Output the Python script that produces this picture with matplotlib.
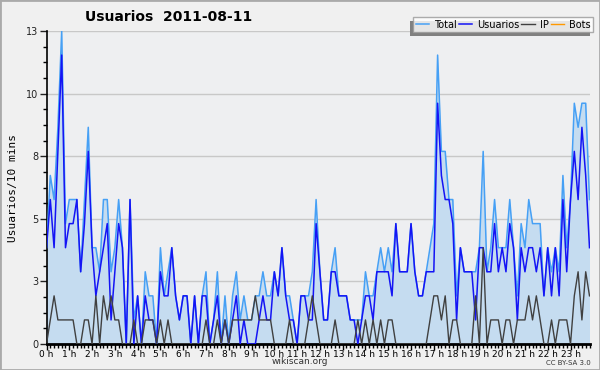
import matplotlib
matplotlib.use("Agg")
import matplotlib.pyplot as plt
from matplotlib.patches import Rectangle
import numpy as np

# 10-minute slots, 2011-08-11
usuarios = [4, 6, 4, 8, 12, 4, 5, 5, 6, 3, 5, 8, 4, 2, 3, 4, 5, 1, 3, 5, 4, 0, 6, 0,
            2, 0, 2, 1, 1, 0, 3, 2, 2, 4, 2, 1, 2, 2, 0, 2, 0, 2, 2, 0, 1, 2, 0, 1,
            0, 1, 2, 0, 1, 0, 0, 0, 1, 2, 1, 1, 3, 2, 4, 2, 1, 1, 0, 2, 2, 1, 1, 5,
            3, 1, 1, 3, 3, 2, 2, 2, 1, 1, 0, 1, 2, 2, 1, 3, 3, 3, 3, 2, 5, 3, 3, 3,
            5, 3, 2, 2, 3, 3, 3, 10, 7, 6, 6, 5, 1, 4, 3, 3, 3, 1, 4, 4, 3, 3, 5, 3,
            4, 3, 5, 4, 1, 4, 3, 4, 4, 3, 4, 2, 4, 2, 4, 2, 6, 3, 6, 8, 6, 9, 7, 4]
ip = [0, 1, 2, 1, 1, 1, 1, 1, 0, 0, 1, 1, 0, 2, 0, 2, 1, 2, 1, 1, 0, 0, 0, 1,
      0, 0, 1, 1, 1, 0, 1, 0, 1, 0, 0, 0, 0, 0, 0, 0, 0, 0, 1, 0, 0, 1, 0, 1,
      0, 1, 1, 1, 1, 1, 1, 2, 1, 1, 1, 1, 0, 0, 0, 0, 1, 0, 0, 0, 0, 1, 2, 1,
      0, 0, 0, 0, 1, 0, 0, 0, 0, 0, 1, 0, 1, 0, 1, 0, 1, 0, 1, 1, 0, 0, 0, 0,
      0, 0, 0, 0, 0, 1, 2, 2, 1, 2, 0, 1, 1, 0, 0, 0, 0, 2, 0, 4, 0, 1, 1, 1,
      0, 1, 1, 0, 1, 1, 1, 2, 1, 2, 1, 0, 0, 1, 0, 1, 1, 1, 0, 2, 3, 1, 3, 2]
bots = [0] * 144
total = [u + i + b for u, i, b in zip(usuarios, ip, bots)]

hour_labels = [f"{h} h" for h in range(24)]
ytick_labels = ["0", "3", "5", "8", "10", "13"]

W, H = 600, 370
fig = plt.figure(figsize=(6, 3.7), dpi=100, facecolor="#f0f0f0")
ax = fig.add_axes([46.5 / W, 1 - 344 / H, (589.5 - 46.5) / W, (344 - 31) / H])
ax.set_facecolor("#eeeff1")
ax.set_zorder(1)

x = np.arange(len(total))
ax.fill_between(x, 0, total, color="#c5dcf0", lw=0, zorder=1)
l1, = ax.plot(x, total, color="#46a0f5", lw=1.1, label="Total", zorder=3)
l2, = ax.plot(x, usuarios, color="#1414f5", lw=1.1, label="Usuarios", zorder=4)
l3, = ax.plot(x, ip, color="#404040", lw=1.0, label="IP", zorder=5)
l4, = ax.plot(x, bots, color="#ff9900", lw=1.0, label="Bots", zorder=2, alpha=0)

ax.set_xlim(0, 143)
ax.set_ylim(0, 13)
yt = [0, 2.6, 5.2, 7.8, 10.4, 13]
ax.set_yticks(yt)
ax.set_yticklabels(ytick_labels)
ax.set_yticks(np.arange(0, 13.01, 0.65), minor=True)
ax.set_xticks(np.arange(0, 144, 6))
ax.set_xticklabels(hour_labels)
ax.set_xticks(np.arange(0, 144, 1), minor=True)
ax.grid(axis="y", which="major", color="#c8c8c8", lw=1, zorder=0)
ax.set_axisbelow(True)

for s in ["top", "right"]:
    ax.spines[s].set_visible(False)
ax.spines["left"].set_linewidth(1.2)
ax.spines["bottom"].set_linewidth(2)
ax.tick_params(axis="y", which="major", length=5, width=1, labelsize=7, pad=1, colors="#222222")
ax.tick_params(axis="y", which="minor", length=3, width=1)
ax.tick_params(axis="x", which="major", length=4, width=1, labelsize=6.5, pad=0)
ax.tick_params(axis="x", which="minor", length=3, width=1)

ax.set_ylabel("Usuarios/10 mins", family="DejaVu Sans Mono", fontsize=8, labelpad=6)

fig.text(85 / W, 1 - 17 / H, "Usuarios  2011-08-11", fontsize=10, fontweight="bold",
         va="center", ha="left")
fig.text(0.5, 1 - 362 / H, "wikiscan.org", fontsize=6.5, ha="center", va="center", color="#333333")
fig.text(591 / W, 1 - 363 / H, "CC BY-SA 3.0", fontsize=5, ha="right", va="center", color="#333333")

leg = fig.legend(handles=[l1, l2, l3, l4], loc="upper right",
                 bbox_to_anchor=(593.3 / W, 1 - 17.3 / H),
                 bbox_transform=fig.transFigure, ncol=4, fontsize=7, frameon=True,
                 fancybox=False, shadow=False, handlelength=1.4, handletextpad=0.5,
                 columnspacing=0.2, borderpad=0.25, borderaxespad=0)
leg.get_frame().set_edgecolor("#999999")
leg.get_frame().set_linewidth(1)
leg.get_frame().set_facecolor("white")
leg.get_lines()[3].set_alpha(1)
leg.set_zorder(20)

fig.canvas.draw()
bb = leg.get_window_extent()
shadow = Rectangle(((bb.x0 - 3.5) / W, (bb.y0 - 3.5) / H), bb.width / W, bb.height / H,
                   transform=fig.transFigure, facecolor="#808080", edgecolor="none", zorder=15)
fig.add_artist(shadow)

fig.add_artist(Rectangle((0, 0), 1, 1, transform=fig.transFigure, fill=False,
                         edgecolor="#aaaaaa", lw=2, zorder=30))

fig.savefig("out.png", dpi=100, facecolor=fig.get_facecolor())
